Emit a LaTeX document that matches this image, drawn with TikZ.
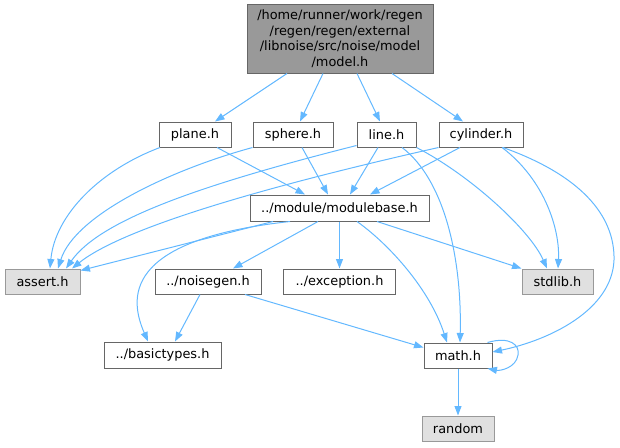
\documentclass[tikz,border=0pt]{standalone}
\usepackage{fontspec}
\setmainfont{DejaVu Sans}
\usepackage{tikz}
\usetikzlibrary{arrows.meta}
\definecolor{edgeblue}{HTML}{63B8FF}
\definecolor{boxline}{HTML}{666666}
\definecolor{rootfill}{HTML}{999999}
\definecolor{sysfill}{HTML}{E0E0E0}
\definecolor{sysline}{HTML}{999999}

\begin{document}
\begin{tikzpicture}[x=1pt, y=-1pt, >={Triangle[length=9.5pt,width=7pt]},
  filebox/.style={draw=boxline, fill=white, line width=1pt, inner sep=0pt, minimum height=25pt, font=\fontsize{12.9}{15.6}\selectfont},
  sysbox/.style={filebox, draw=sysline, fill=sysfill},
  rootbox/.style={filebox, fill=rootfill, align=center, minimum height=69pt},
  dep/.style={->, color=edgeblue, line width=1pt}]
  \useasboundingbox (0,0) rectangle (620,447);

  % nodes
  \node[rootbox, minimum width=186pt] (model) at (340,38.5) {/home/runner/work/regen\\/regen/regen/external\\/libnoise/src/noise/model\\/model.h};
  \node[filebox, minimum width=72pt] (plane) at (195,134.5) {plane.h};
  \node[filebox, minimum width=80pt] (sphere) at (293,134.5) {sphere.h};
  \node[filebox, minimum width=59pt] (line) at (386.5,134.5) {line.h};
  \node[filebox, minimum width=84pt] (cylinder) at (481,134.5) {cylinder.h};
  \node[filebox, minimum width=179pt, minimum height=26pt] (modulebase) at (339.5,208) {../module/modulebase.h};
  \node[sysbox, minimum width=75pt] (assert) at (42.5,281.5) {assert.h};
  \node[filebox, minimum width=106pt] (noisegen) at (208,281.5) {../noisegen.h};
  \node[filebox, minimum width=112pt] (exception) at (339.5,281.5) {../exception.h};
  \node[sysbox, minimum width=71pt] (stdlib) at (557.5,281.5) {stdlib.h};
  \node[filebox, minimum width=117pt, minimum height=26pt] (basictypes) at (162.5,355) {../basictypes.h};
  \node[filebox, minimum width=68pt] (math) at (458,355.5) {math.h};
  \node[sysbox, minimum width=72pt] (random) at (458,428.5) {random};

  % model.h
  \draw[dep] ([xshift=-53pt]model.south) -- ([xshift=20pt]plane.north);
  \draw[dep] ([xshift=-17pt]model.south) -- ([xshift=7pt]sphere.north);
  \draw[dep] ([xshift=17pt]model.south) -- ([xshift=-6.5pt]line.north);
  \draw[dep] ([xshift=52pt]model.south) -- ([xshift=-18pt]cylinder.north);

  % first row
  \draw[dep] ([xshift=-35pt]plane.south) .. controls (100,170) and (55,215) .. ([xshift=7.5pt]assert.north);
  \draw[dep] ([xshift=22pt]plane.south) -- ([xshift=-34.5pt]modulebase.north);
  \draw[dep] (sphere.south west) .. controls (170,170) and (75,215) .. ([xshift=15.5pt]assert.north);
  \draw[dep] ([xshift=9pt]sphere.south) -- ([xshift=-11.5pt]modulebase.north);
  \draw[dep] ([yshift=2pt]line.south west) .. controls (200,185) and (100,220) .. ([xshift=23.5pt]assert.north);
  \draw[dep] ([xshift=-8.5pt]line.south) -- ([xshift=10.5pt]modulebase.north);
  \draw[dep] ([xshift=15.5pt]line.south) .. controls (445,180) and (462,260) .. ([xshift=2pt]math.north);
  \draw[dep] (line.south east) .. controls (470,175) and (530,230) .. ([xshift=-10.5pt]stdlib.north);
  \draw[dep] (cylinder.south west) .. controls (250,190) and (120,230) .. ([xshift=29.5pt]assert.north);
  \draw[dep] ([xshift=-21pt]cylinder.south) -- ([xshift=30.5pt]modulebase.north);
  \draw[dep] ([xshift=21pt]cylinder.south) .. controls (545,180) and (560,230) .. ([xshift=0.5pt]stdlib.north);
  \draw[dep] ([xshift=22pt]cylinder.south) .. controls (580,175) and (615,215) .. (614,260)
    .. controls (612,310) and (550,340) .. ([yshift=3.5pt]math.east);

  % modulebase.h
  \draw[dep] ([xshift=-66.5pt]modulebase.south) -- ([yshift=-2pt]assert.north east);
  \draw[dep] ([xshift=-49.5pt]modulebase.south) .. controls (120,240) and (130,300) .. ([xshift=-14.5pt]basictypes.north);
  \draw[dep] ([xshift=-21.5pt]modulebase.south) -- ([xshift=25pt]noisegen.north);
  \draw[dep] (modulebase.south) -- (exception.north);
  \draw[dep] ([xshift=17.5pt]modulebase.south) .. controls (390,245) and (430,290) .. ([xshift=-11pt]math.north);
  \draw[dep] ([xshift=37.5pt]modulebase.south) -- (stdlib.north west);

  % lower rows
  \draw[dep] ([xshift=-8pt]noisegen.south) -- ([xshift=12.5pt]basictypes.north);
  \draw[dep] ([xshift=37pt]noisegen.south) -- ([yshift=-5pt]math.north west);
  \draw[dep] ([xshift=-5pt]math.north east) .. controls (510,336) and (520,345) .. (518,355)
    .. controls (516,368) and (500,371) .. ([xshift=-5pt]math.south east);
  \draw[dep] (math.south) -- (random.north);
\end{tikzpicture}
\end{document}
